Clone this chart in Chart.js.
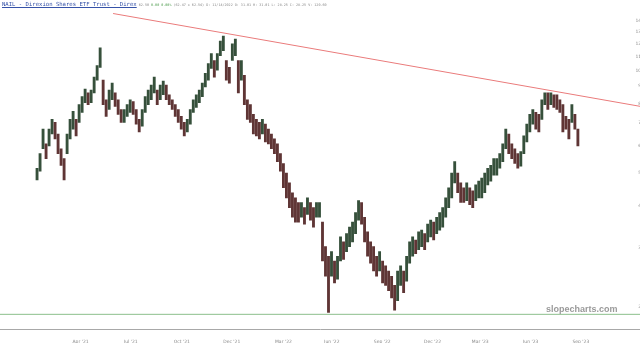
<!DOCTYPE html>
<html>
<head>
<meta charset="utf-8">
<script src="https://cdn.jsdelivr.net/npm/chart.js@4.4.0/dist/chart.umd.min.js"></script>
<style>
  html, body { margin: 0; padding: 0; background: #fff; }
  #wrap { position: relative; width: 640px; height: 343px; }
  #chart { position: absolute; left: 0; top: 0; }
  #header { position: absolute; left: 2px; top: 1px; white-space: nowrap; font-family: 'DejaVu Sans Mono', monospace; font-size: 3.4px; color: #888; }
  #header .sym { color: #3552a8; text-decoration: underline; font-size: 5.6px; }
  #header .chg { color: #4a9a4a; }
  #mark { position: absolute; left: 546px; top: 304px; font-family: 'Liberation Sans', Arial, sans-serif; font-weight: bold; font-size: 9px; color: #9a9a9a; }
</style>
</head>
<body>
<div id="wrap">
  <canvas id="chart" width="640" height="343"></canvas>
  <div id="header"><span class="sym">NAIL - Direxion Shares ETF Trust - Direx</span> 62.50 <span class="chg">0.00 0.00%</span> (62.47 x 62.54) D: 11/14/2022 O: 31.01 H: 31.01 L: 28.25 C: 28.25 V: 120.60</div>
  <div id="mark">slopecharts.com</div>
</div>
<script>
// one bar per ~4 sessions
const barHighs = [
  51.5, 56.9, 67.2, 60.8, 67.2, 71.8, 70.4, 65.0, 58.8, 55.0,
  65.0, 71.8, 75.8, 71.8, 79.4, 83.8, 88.3, 86.0, 87.7, 95.7,
  103.6, 116.9, 93.8, 82.1, 87.7, 91.9, 86.0, 82.1, 76.8, 76.8,
  79.4, 82.1, 81.0, 76.8, 71.8, 76.8, 83.8, 87.7, 90.7, 95.7,
  87.7, 90.7, 93.2, 90.7, 84.9, 82.1, 79.4, 76.8, 73.3, 70.4,
  71.8, 76.8, 82.1, 84.9, 87.7, 91.9, 98.3, 105.0, 112.3, 107.2,
  112.3, 122.4, 126.6, 107.2, 102.3, 120.0, 124.1, 107.2, 107.2, 97.0,
  82.1, 79.4, 74.3, 71.8, 70.4, 71.8, 69.5, 67.2, 65.0, 62.9,
  60.8, 56.9, 53.2, 49.8, 46.6, 43.6, 42.1, 40.8, 40.8, 39.4,
  42.1, 40.8, 39.4, 40.8, 40.8, 35.7, 30.2, 28.3, 29.2, 27.4,
  28.3, 32.3, 31.2, 33.0, 34.5, 35.7, 38.1, 41.3, 40.8, 36.9,
  33.4, 31.2, 30.2, 28.3, 29.2, 27.4, 26.5, 25.6, 24.7, 23.2,
  25.6, 26.5, 25.6, 28.3, 31.2, 32.3, 31.6, 33.4, 33.8, 33.0,
  35.2, 36.2, 35.7, 36.9, 38.1, 39.4, 42.1, 45.1, 49.8, 53.9,
  49.8, 46.6, 45.1, 46.6, 45.1, 44.2, 46.0, 47.2, 48.2, 49.8,
  51.5, 52.5, 55.0, 55.0, 56.9, 60.8, 67.2, 65.0, 60.8, 58.8,
  56.9, 57.7, 64.2, 69.5, 74.3, 76.8, 75.3, 74.3, 82.1, 86.0,
  86.0, 86.0, 84.9, 84.9, 82.1, 79.4, 73.3, 71.8, 79.4, 74.3,
  67.2
];
const barLows = [
  47.6, 50.5, 58.8, 55.0, 60.0, 65.0, 62.9, 56.9, 52.5, 47.6,
  56.9, 62.9, 67.2, 64.2, 70.4, 75.3, 80.5, 79.4, 80.5, 86.0,
  93.8, 102.3, 79.4, 73.3, 76.8, 82.1, 78.4, 74.3, 70.4, 70.4,
  73.3, 75.3, 74.3, 69.5, 65.9, 68.6, 75.3, 79.4, 82.1, 86.0,
  79.4, 82.1, 84.9, 82.1, 79.4, 76.8, 73.3, 70.4, 67.2, 64.2,
  65.9, 69.5, 75.3, 77.9, 80.5, 83.8, 89.5, 93.8, 101.6, 95.7,
  100.3, 110.8, 114.6, 93.8, 91.9, 107.2, 110.8, 86.0, 93.8, 79.4,
  71.8, 70.4, 65.0, 64.2, 62.9, 65.0, 61.6, 60.8, 58.8, 56.9,
  53.9, 50.5, 45.1, 42.1, 39.4, 36.9, 35.7, 35.7, 36.9, 35.2,
  37.6, 36.2, 34.5, 36.9, 36.9, 27.4, 24.7, 19.3, 24.7, 23.6,
  24.2, 27.4, 27.7, 29.2, 30.2, 31.2, 33.0, 36.2, 35.2, 31.2,
  28.3, 27.0, 25.6, 24.7, 25.6, 23.6, 23.2, 22.4, 21.3, 19.6,
  20.9, 23.2, 22.1, 23.9, 27.0, 28.3, 28.8, 29.6, 30.2, 29.6,
  31.2, 32.3, 31.6, 33.0, 33.8, 34.5, 36.9, 39.4, 42.1, 46.6,
  43.6, 40.8, 40.8, 41.3, 40.2, 39.4, 41.3, 42.1, 42.1, 43.6,
  46.0, 47.2, 49.1, 49.1, 51.5, 53.9, 58.8, 56.9, 55.0, 53.2,
  51.5, 52.2, 56.9, 61.6, 65.9, 69.5, 67.2, 65.9, 71.8, 79.4,
  76.8, 79.4, 77.9, 76.8, 75.3, 65.9, 67.2, 62.9, 70.4, 67.2,
  60.0
];

const tickLabels = ["Apr '21", "Jul '21", "Oct '21", "Dec '21", "Mar '22", "Jun '22", "Sep '22", "Dec '22", "Mar '23", "Jun '23", "Sep '23"];
const tickPositions = [14.5, 31.2, 48.2, 64.8, 82.0, 98.1, 114.9, 131.6, 147.5, 164.3, 181.0];
const priceTicks = [20, 30, 40, 50, 60, 70, 80, 90, 100, 110, 120, 130, 140];

// resistance line (two touch points) and the flat support level
const trendX = [25.3, 201];
const trendY = [147.6, 78.4];
const supportLevel = 19.06;

const X_MIN = -12.33;
const X_MAX = 200.67;

const UP_COLOR = '#36503b';
const DOWN_COLOR = '#5f3535';

function barColors() {
  return barHighs.map((h, i) => {
    if (i === 0) return UP_COLOR;
    const mid = (h + barLows[i]) / 2;
    const prevMid = (barHighs[i - 1] + barLows[i - 1]) / 2;
    return mid >= prevMid ? UP_COLOR : DOWN_COLOR;
  });
}

const candles = barHighs.map((h, i) => ({ x: i, y: [barLows[i], h] }));

new Chart(document.getElementById('chart'), {
  data: {
    datasets: [
      {
        type: 'line',
        data: [{ x: trendX[0], y: trendY[0] }, { x: trendX[1], y: trendY[1] }],
        borderColor: '#ea7b7b',
        borderWidth: 1,
        pointRadius: 0,
        clip: false
      },
      {
        type: 'line',
        data: [{ x: X_MIN, y: supportLevel }, { x: X_MAX, y: supportLevel }],
        borderColor: '#8cbf8c',
        borderWidth: 1,
        pointRadius: 0
      },
      {
        type: 'bar',
        data: candles,
        backgroundColor: barColors(),
        barThickness: 2.2,
        grouped: false
      }
    ]
  },
  options: {
    responsive: false,
    devicePixelRatio: 1,
    animation: false,
    layout: { padding: 0 },
    plugins: { legend: { display: false }, tooltip: { enabled: false } },
    scales: {
      x: {
        type: 'linear',
        offset: false,
        min: X_MIN,
        max: X_MAX,
        grid: { display: false },
        border: { color: '#a8a8a8', width: 1 },
        afterBuildTicks: (scale) => { scale.ticks = tickPositions.map((v) => ({ value: v })); },
        afterFit: (scale) => { scale.height = 14; },
        ticks: {
          autoSkip: false,
          maxRotation: 0,
          padding: 2,
          color: '#8a8a8a',
          font: { family: 'DejaVu Sans', size: 4.5 },
          callback: (v) => {
            const k = tickPositions.indexOf(v);
            return k >= 0 ? tickLabels[k] : '';
          }
        }
      },
      y: {
        type: 'logarithmic',
        position: 'right',
        min: 17.25,
        max: 154.6,
        grid: { display: false },
        border: { display: false },
        afterBuildTicks: (scale) => { scale.ticks = priceTicks.map((v) => ({ value: v })); },
        afterFit: (scale) => { scale.width = 0; },
        ticks: {
          mirror: true,
          padding: 4,
          color: '#8a8a8a',
          font: { family: 'DejaVu Sans', size: 4.5 },
          callback: (v) => String(v)
        }
      }
    }
  }
});
</script>
</body>
</html>
